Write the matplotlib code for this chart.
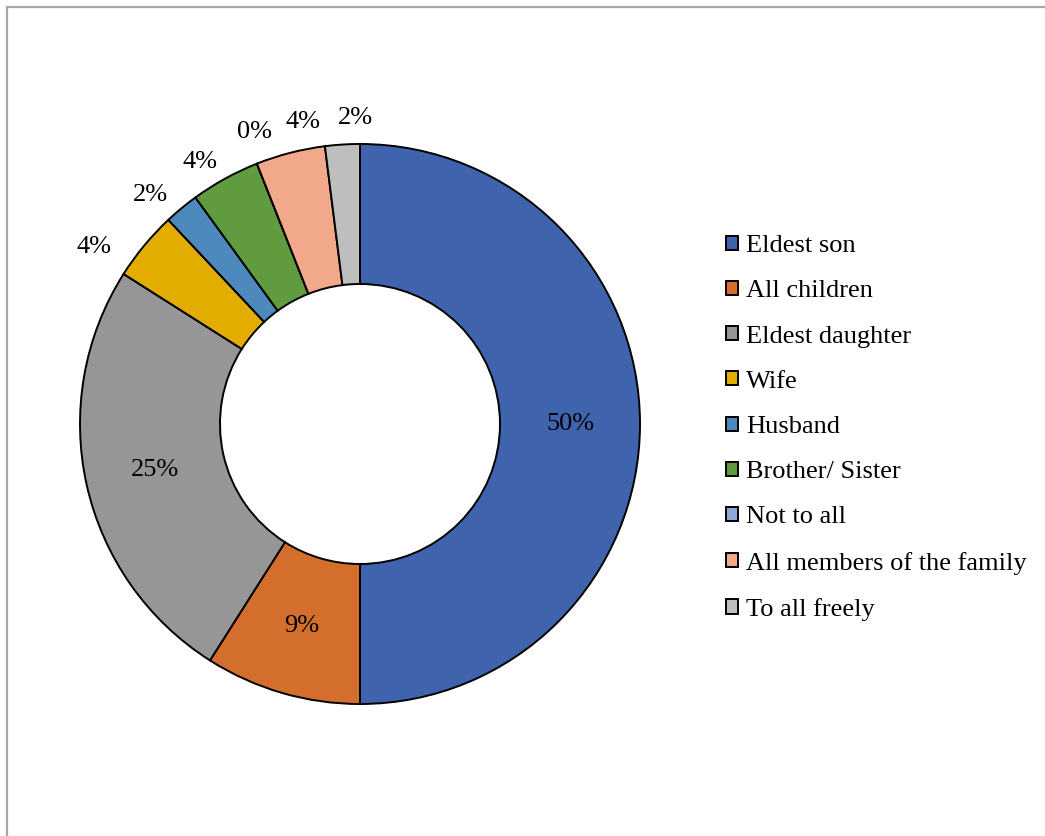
import numpy as np
import matplotlib
matplotlib.use('Agg')
import matplotlib.pyplot as plt
from matplotlib.patches import Rectangle

plt.rcParams['font.family'] = ['Liberation Serif', 'DejaVu Serif']

categories = ['Eldest son', 'All children', 'Eldest daughter', 'Wife', 'Husband',
              'Brother/ Sister', 'Not to all', 'All members of the family', 'To all freely']
shares = [50, 9, 25, 4, 2, 4, 0, 4, 2]
colors = ['#3F64AD', '#D46E2C', '#969696', '#E2AC00', '#4E89BE',
          '#609C3F', '#8FA8DA', '#F2A88A', '#BEBEBE']

# small slices get their label outside the ring, nudged in pixels from the outer edge
outside = {3: (-50, -1), 4: (-31, 13), 5: (-25, 17), 6: (-2, 32), 7: (13, 31), 8: (13, 27)}

W, H = 1045, 836
fig = plt.figure(figsize=(W / 100, H / 100), dpi=100)

# chart area border
fig.patches.append(Rectangle((7 / W, -0.1), 1.2, 1.1 - 7 / H, transform=fig.transFigure,
                             fill=False, edgecolor='#A6A6A6', linewidth=1.6))

cx, cy, R = 360, 424, 280
ax = fig.add_axes([(cx - R) / W, (H - cy - R) / H, 2 * R / W, 2 * R / H])

wedges, _ = ax.pie(shares, colors=colors, startangle=90, counterclock=False,
                   radius=1.0, wedgeprops=dict(width=0.5, edgecolor='black', linewidth=1.4))

total = float(sum(shares))
for i, w in enumerate(wedges):
    ang = np.deg2rad((w.theta1 + w.theta2) / 2.0)
    txt = '%d%%' % round(100 * shares[i] / total)
    if i in outside:
        ax.annotate(txt, xy=(np.cos(ang), np.sin(ang)), xytext=outside[i],
                    textcoords='offset pixels', ha='center', va='center', fontsize=19)
    else:
        ax.text(0.75 * np.cos(ang), 0.75 * np.sin(ang), txt, ha='center', va='center',
                fontsize=19)

ax.set_xlim(-1, 1)
ax.set_ylim(-1, 1)
ax.set_aspect('equal')
ax.axis('off')

fig.legend(wedges, categories, loc='center left', bbox_to_anchor=(726 / W, 1 - 428 / H),
           frameon=False, fontsize=19, handlelength=0.45, handleheight=0.45,
           handletextpad=0.3, labelspacing=0.88, borderpad=0, borderaxespad=0)

fig.savefig('out.png', dpi=100)
